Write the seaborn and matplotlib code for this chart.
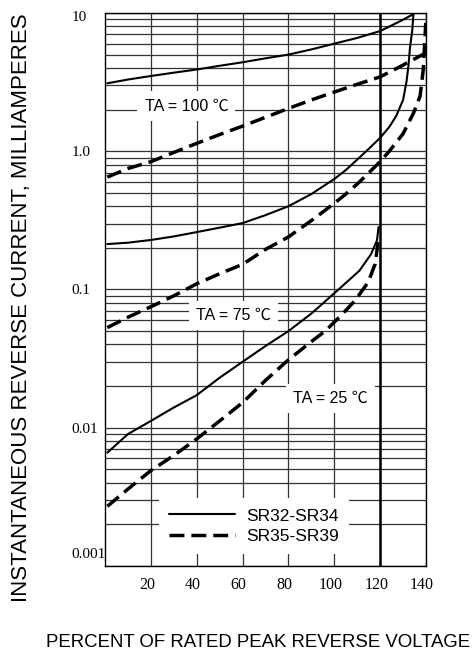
import numpy as np
import pandas as pd
import matplotlib
matplotlib.use("Agg")
import matplotlib.pyplot as plt
import matplotlib.transforms as mtransforms
import seaborn as sns
from matplotlib.lines import Line2D
from matplotlib.ticker import FixedLocator, NullFormatter, LogLocator

sns.set_style("white")
plt.rcParams["font.family"] = ["Liberation Sans", "Noto Sans CJK SC", "DejaVu Sans"]
plt.rcParams["text.color"] = "black"
plt.rcParams["axes.labelcolor"] = "black"
plt.rcParams["xtick.color"] = "black"
plt.rcParams["ytick.color"] = "black"

# ---------------- data ----------------
series_names = ["SR32-SR34", "SR35-SR39"]

pct_100_solid = [1, 10, 20, 30, 40, 50, 60, 70, 80, 90, 100, 110, 120, 128, 134.5]
cur_100_solid = [3.1, 3.3, 3.5, 3.7, 3.9, 4.15, 4.4, 4.7, 5.0, 5.45, 6.0, 6.6, 7.4, 8.6, 9.8]

pct_100_dash = [1, 10, 20, 30, 40, 50, 60, 70, 80, 90, 100, 110, 120, 130, 139.5]
cur_100_dash = [0.65, 0.75, 0.84, 0.98, 1.14, 1.32, 1.52, 1.76, 2.04, 2.35, 2.68, 3.05, 3.45, 4.2, 5.1]

pct_75_solid = [1, 10, 20, 30, 40, 50, 60, 70, 80, 90, 100, 105, 110, 115, 120, 124,
                127, 130, 131.5, 132.3, 133, 134, 134.5]
cur_75_solid = [0.213, 0.218, 0.228, 0.242, 0.26, 0.28, 0.302, 0.345, 0.40, 0.49, 0.63, 0.73,
                0.87, 1.04, 1.25, 1.5, 1.8, 2.35, 3.2, 4.1, 5.6, 7.5, 9.8]

pct_75_dash = [1, 10, 20, 30, 40, 50, 60, 70, 80, 90, 100, 105, 111, 119, 124, 130,
               134.5, 137.4, 138.8, 139.5, 139.9]
cur_75_dash = [0.053, 0.063, 0.075, 0.09, 0.11, 0.13, 0.152, 0.195, 0.24, 0.315, 0.42, 0.49,
               0.6, 0.81, 1.0, 1.34, 1.88, 2.5, 3.9, 6.5, 8.5]

pct_25_solid = [1, 10, 20, 30, 40, 50, 60, 70, 80, 90, 94, 100, 103, 111, 116, 118.6, 119.3]
cur_25_solid = [0.0066, 0.009, 0.0112, 0.014, 0.0172, 0.023, 0.030, 0.039, 0.050, 0.067,
                0.0766, 0.094, 0.104, 0.137, 0.18, 0.226, 0.283]

pct_25_dash = [1, 10, 20, 30, 40, 50, 60, 70, 80, 90, 96, 103, 109, 114.8, 117.8, 119.3]
cur_25_dash = [0.0027, 0.0036, 0.0049, 0.0063, 0.0083, 0.0112, 0.0152, 0.022, 0.031, 0.042,
               0.050, 0.065, 0.083, 0.113, 0.153, 0.233]

temp_labels = ["TA = 100 \u2103", "TA = 75 \u2103", "TA = 25 \u2103"]
temp_label_x = [35.5, 56.1, 98.5]
temp_label_y = [2.12, 0.0649, 0.0162]

x_ticks = [20, 40, 60, 80, 100, 120, 140]
y_ticks = [0.001, 0.01, 0.1, 1, 10]
y_tick_labels = ["0.001", "0.01", "0.1", "1.0", "10"]
emphasized_x = [120]

x_label = "PERCENT OF RATED PEAK REVERSE VOLTAGE"
y_label = "INSTANTANEOUS REVERSE CURRENT, MILLIAMPERES"

# ---------------- long-form table ----------------
curves = [
    ("100 solid", series_names[0], pct_100_solid, cur_100_solid),
    ("100 dash", series_names[1], pct_100_dash, cur_100_dash),
    ("75 solid", series_names[0], pct_75_solid, cur_75_solid),
    ("75 dash", series_names[1], pct_75_dash, cur_75_dash),
    ("25 solid", series_names[0], pct_25_solid, cur_25_solid),
    ("25 dash", series_names[1], pct_25_dash, cur_25_dash),
]
frames = []
for cname, sname, xs, ys in curves:
    frames.append(pd.DataFrame({"pct": xs, "current": ys, "curve": cname, "series": sname}))
df = pd.concat(frames, ignore_index=True)

# ---------------- figure ----------------
fig = plt.figure(figsize=(4.75, 6.55), dpi=100)
ax = fig.add_axes([0.2211, 0.1359, 0.6758, 0.8443])
ax.set_yscale("log")

dash_pattern = (4.3, 2.0)
sns.lineplot(
    data=df, x="pct", y="current", units="curve", estimator=None,
    style="series", size="series",
    dashes={series_names[0]: "", series_names[1]: dash_pattern},
    sizes={series_names[0]: 1.5, series_names[1]: 2.5},
    color="black", sort=False, legend=False, ax=ax, zorder=2,
)

ax.set_xlim(0, 140)
ax.set_ylim(0.001, 10)

ax.xaxis.set_major_locator(FixedLocator(x_ticks))
ax.set_xticklabels([str(v) for v in x_ticks], fontfamily="Liberation Serif", fontsize=11.5)
ax.yaxis.set_major_locator(FixedLocator(y_ticks))
ax.set_yticklabels(y_tick_labels, fontfamily="Liberation Serif", fontsize=11, ha="left")
ax.yaxis.set_minor_locator(LogLocator(base=10, subs=np.arange(2, 10)))
ax.yaxis.set_minor_formatter(NullFormatter())

ax.set_axisbelow(True)
grid_color = "#333333"
ax.grid(True, which="major", axis="both", color=grid_color, lw=0.9)
ax.grid(True, which="minor", axis="y", color=grid_color, lw=0.9)
ax.tick_params(axis="x", which="both", length=0, pad=8, labelcolor="black")
ax.tick_params(axis="y", which="both", length=0, pad=24, labelcolor="black")

# small optical offsets of tick labels as in the reference
for tick in ax.xaxis.get_major_ticks():
    tick.label1.set_transform(tick.label1.get_transform()
                              + mtransforms.ScaledTranslation(-4 / 100, 0, fig.dpi_scale_trans))
ymt = ax.yaxis.get_major_ticks()
ymt[0].label1.set_transform(ymt[0].label1.get_transform()
                            + mtransforms.ScaledTranslation(0, 13 / 100, fig.dpi_scale_trans))
ymt[-1].label1.set_transform(ymt[-1].label1.get_transform()
                             + mtransforms.ScaledTranslation(0, -3 / 100, fig.dpi_scale_trans))

for s in ax.spines.values():
    s.set_visible(True)
    s.set_color("black")
    s.set_linewidth(1.0)

for xv in emphasized_x:
    ax.axvline(xv, color="black", lw=1.8, zorder=3)

for txt, tx, ty in zip(temp_labels, temp_label_x, temp_label_y):
    ax.text(tx, ty, txt, ha="center", va="center", fontsize=11.5, zorder=1.5, color="black",
            bbox=dict(boxstyle="square,pad=0.45", fc="white", ec="none"))

handles = [
    Line2D([], [], color="black", lw=1.5),
    Line2D([], [], color="black", lw=2.5, dashes=dash_pattern),
]
leg = ax.legend(handles, series_names, loc="center", bbox_to_anchor=(0.464, 0.072),
                frameon=True, fancybox=False, edgecolor="none", facecolor="white",
                framealpha=1, handlelength=3.75, handletextpad=0.65, labelspacing=0.3,
                borderpad=0.6, labelcolor="black",
                prop={"family": "Liberation Sans", "size": 12.5})
leg.set_zorder(2.2)

ax.set_xlabel(x_label, fontsize=13.4, color="black")
ax.xaxis.set_label_coords(0.4766, -0.139)
ax.xaxis.label.set_va("center")
ax.set_ylabel(y_label, fontsize=16, color="black")
ax.yaxis.set_label_coords(-0.259, 0.467)
ax.yaxis.label.set_va("center")

fig.savefig("out.png", dpi=100)
